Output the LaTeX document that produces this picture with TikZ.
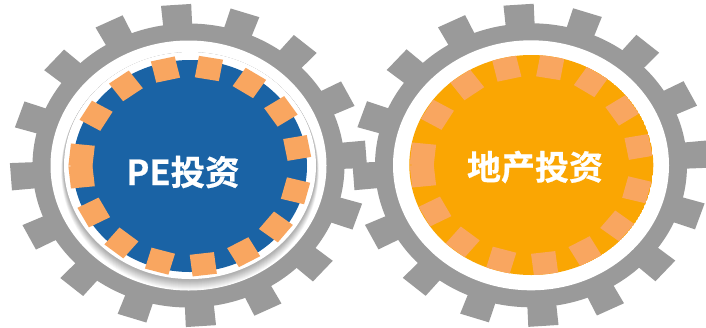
\documentclass[tikz,border=0pt]{standalone}
\usepackage{fontspec}
\newfontfamily\cjk{Noto Sans CJK SC Bold}[FakeBold=0.6]
\definecolor{geargray}{HTML}{9A9A9A}
\definecolor{peblue}{HTML}{1A63A5}
\definecolor{dashorange}{HTML}{F9A660}
\definecolor{hubamber}{HTML}{FAA603}
\tikzset{
  x=1pt,y=-1pt,
  geartooth/.style={fill=geargray,draw=none},
  dashblock/.style={fill=dashorange,draw=none},
  hublabel/.style={text=white,inner sep=0pt},
}
\newcommand{\gearshape}[2]{%
  \begin{scope}[shift={(#1,#2)}]
    \foreach \a in {94,71.5,...,-243.5}{
      \begin{scope}[xscale=178,yscale=161,x=1pt,y=1pt,rotate=\a]
        \fill[geartooth] (0.82,-0.08) -- (1,-0.085) -- (1,0.085) -- (0.82,0.08) -- cycle;
      \end{scope}}
    \fill[geargray] (0,0) ellipse [x radius=156,y radius=142];
    \fill[white] (0,0) ellipse [x radius=138,y radius=125];
  \end{scope}}
\newcommand{\dashring}[2]{%
  \begin{scope}[shift={(#1,#2)}]
    \foreach \a in {80,57,33.5,10.5,-14.5,-38,-60.5,-83,-106,-129,-152,-174,174,149.5,126,103}{
      \begin{scope}[xscale=109,yscale=99,x=1pt,y=1pt,rotate=\a]
        \fill[dashblock] (0.89,-0.112) rectangle (1.11,0.112);
      \end{scope}}
  \end{scope}}
\begin{document}
\begin{tikzpicture}
\useasboundingbox (0,0) rectangle (706,327);
\fill[white] (0,0) rectangle (706,327);
\gearshape{188.5}{165.5}
\gearshape{531}{165.3}
% soft shadow round the white disc of the left hub
\foreach \i/\c in {11/3,10/6,9/9,8/12,7/15,6/18,5/21,4/24,3/27,2/29,1/31}{
  \fill[black!\c!white] (190,165.5+0.55*\i) ellipse [x radius=126+0.25*\i,y radius=113.5+0.45*\i];}
\fill[white] (190,165.5) ellipse [x radius=126,y radius=113.5];
\fill[peblue] (190,166) ellipse [x radius=117,y radius=106];
\dashring{190}{166}
\begin{scope}
  \clip (531.3,165) ellipse [x radius=122,y radius=110];
  \fill[hubamber] (531.3,165) ellipse [x radius=122,y radius=110];
  \dashring{531.3}{165}
\end{scope}
\node[hublabel,font=\cjk\fontsize{34.5}{34.5}\selectfont] (pe) at (183,172) {PE投资};
\node[hublabel,font=\cjk\fontsize{34}{34}\selectfont] (re) at (535,167) {地产投资};
\end{tikzpicture}
\end{document}
